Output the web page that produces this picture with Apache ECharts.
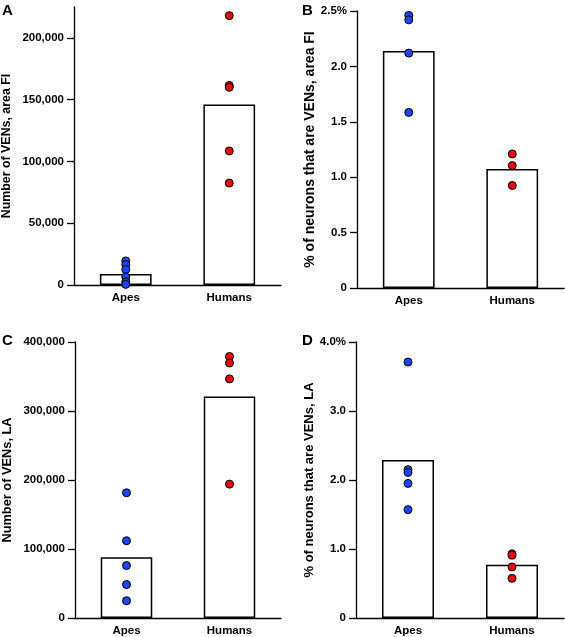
<!DOCTYPE html>
<html><head><meta charset="utf-8">
<script src="https://cdn.jsdelivr.net/npm/echarts@6/dist/echarts.min.js"></script>
<style>html,body{margin:0;padding:0;background:#fff}#c{width:565px;height:637px}</style>
</head><body><div id="c"></div>
<script>
const categories = ['Apes', 'Humans'];
// A: Number of VENs, area FI
const fiCountMeans = [8900, 146000];
const fiCountApes = [19500, 16500, 12500, 6500, 2500, 500];
const fiCountHumans = [218000, 161500, 160000, 108500, 82500];
const fiCountTicks = [0, 50000, 100000, 150000, 200000];
// B: % of neurons that are VENs, area FI
const fiPctMeans = [2.14, 1.073];
const fiPctApes = [2.46, 2.42, 2.12, 1.585];
const fiPctHumans = [1.21, 1.105, 0.925];
// C: Number of VENs, LA
const laCountMeans = [88000, 321000];
const laCountApes = [181500, 112000, 76000, 48500, 25000];
const laCountHumans = [379000, 369500, 346500, 194000];
// D: % of neurons that are VENs, LA
const laPctMeans = [2.29, 0.77];
const laPctApes = [3.71, 2.15, 2.11, 1.95, 1.57];
const laPctHumans = [0.93, 0.91, 0.74, 0.575];

const FONT = '"Liberation Sans", Arial, Helvetica, sans-serif';
const BLUE = '#1f44f5', RED = '#e60a0a';

const panels = [
  {grid:{left:73, top:7, width:208, height:278}, name:'Number of VENs, area FI', gap:61, nameSize:12.4,
   min:0, max:225000, interval:50000, ticks:fiCountTicks, means:fiCountMeans, apes:fiCountApes, humans:fiCountHumans,
   fmt:v=>v.toLocaleString('en-US')},
  {grid:{left:357, top:11, width:207, height:277}, name:'% of neurons that are VENs, area FI', gap:36, nameSize:14,
   min:0, max:2.5, interval:0.5, ticks:null, means:fiPctMeans, apes:fiPctApes, humans:fiPctHumans,
   fmt:v=>v===0?'0':(Math.abs(v-2.5)<1e-9?'2.5%':v.toFixed(1))},
  {grid:{left:73, top:342, width:208, height:278}, name:'Number of VENs, LA', gap:61, nameSize:12.8,
   min:0, max:400000, interval:100000, ticks:null, means:laCountMeans, apes:laCountApes, humans:laCountHumans,
   fmt:v=>v.toLocaleString('en-US')},
  {grid:{left:356, top:342, width:208, height:278}, name:'% of neurons that are VENs, LA', gap:36, nameSize:13,
   min:0, max:4, interval:1, ticks:null, means:laPctMeans, apes:laPctApes, humans:laPctHumans,
   fmt:v=>v===0?'0':(Math.abs(v-4)<1e-9?'4.0%':v.toFixed(1))}
];

const grid=[], xAxis=[], yAxis=[], series=[];
panels.forEach((p,i)=>{
  grid.push(p.grid);
  xAxis.push({type:'category', gridIndex:i, data:categories,
    axisLine:{lineStyle:{color:'#000', width:1.3}}, axisTick:{show:false},
    axisLabel:{color:'#000', fontFamily:FONT, fontWeight:'bold', fontSize:11.5, margin:7}});
  const y = {type:'value', gridIndex:i, min:p.min, max:p.max, interval:p.interval,
    name:p.name, nameLocation:'middle', nameGap:p.gap,
    nameTextStyle:{color:'#000', fontFamily:FONT, fontWeight:'bold', fontSize:p.nameSize},
    splitLine:{show:false},
    axisLine:{show:true, lineStyle:{color:'#000', width:1.3}},
    axisTick:{show:true, length:7, lineStyle:{color:'#000', width:1.3}},
    axisLabel:{color:'#000', fontFamily:FONT, fontWeight:'bold', fontSize:11.5, margin:10, formatter:p.fmt}};
  if (p.ticks) { y.axisLabel.customValues = p.ticks; y.axisTick.customValues = p.ticks; }
  yAxis.push(y);
  series.push({type:'bar', xAxisIndex:i, yAxisIndex:i, data:p.means, barWidth:'50%',
    itemStyle:{color:'#fff', borderColor:'#000', borderWidth:1.5}, silent:true, z:1});
  series.push({type:'scatter', xAxisIndex:i, yAxisIndex:i, data:p.apes.map(v=>[0,v]),
    symbolSize:8, itemStyle:{color:BLUE, borderColor:'#000', borderWidth:1, opacity:1}, z:5});
  series.push({type:'scatter', xAxisIndex:i, yAxisIndex:i, data:p.humans.map(v=>[1,v]),
    symbolSize:8, itemStyle:{color:RED, borderColor:'#000', borderWidth:1, opacity:1}, z:5});
});

const letter = (t,x,y)=>({type:'text', left:x, top:y, style:{text:t, fill:'#000', font:'bold 15px '+FONT}});
const chart = echarts.init(document.getElementById('c'), null, {renderer:'canvas'});
chart.setOption({
  animation:false, backgroundColor:'#fff',
  grid, xAxis, yAxis, series,
  graphic:[letter('A',2,3), letter('B',302,3), letter('C',2,333), letter('D',302,333)]
});
</script></body></html>
